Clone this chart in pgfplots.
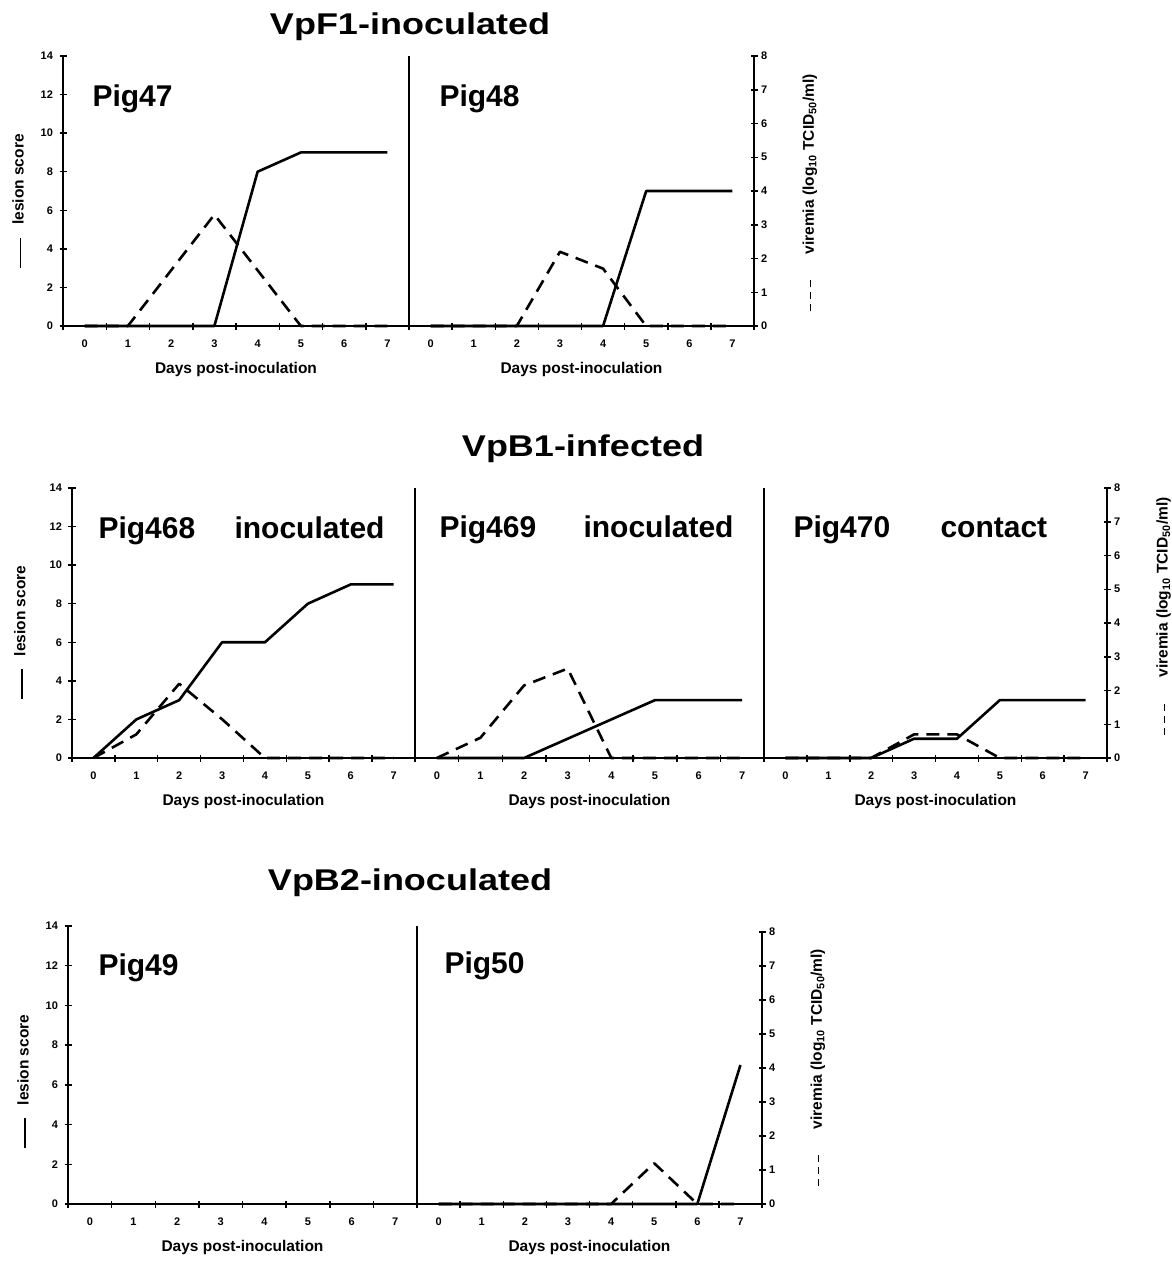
\documentclass[border=0pt]{standalone}
\usepackage{fontspec}
\setmainfont{Liberation Sans}
\usepackage{graphicx}
\usepackage{pgfplots}
\usepackage{pgfplotstable}
\pgfplotsset{compat=1.18}

% day, lesion score, viremia (log10 TCID50/ml)
\pgfplotstableread{
day les vir
0 0 0
1 0 0
2 0 1.65
3 0 3.3
4 8 1.65
5 9 0
6 9 0
7 9 0
}\pigA
\pgfplotstableread{
day les vir
0 0 0
1 0 0
2 0 0
3 0 2.2
4 0 1.7
5 7 0
6 7 0
7 7 0
}\pigB
\pgfplotstableread{
day les vir
0 0 0
1 2 0.7
2 3 2.2
3 6 1.15
4 6 0
5 8 0
6 9 0
7 9 0
}\pigC
\pgfplotstableread{
day les vir
0 0 0
1 0 0.6
2 0 2.15
3 1 2.65
4 2 0
5 3 0
6 3 0
7 3 0
}\pigD
\pgfplotstableread{
day les vir
0 0 0
1 0 0
2 0 0
3 1 0.7
4 1 0.7
5 3 0
6 3 0
7 3 0
}\pigE
\pgfplotstableread{
day les vir
0 0 0
1 0 0
2 0 0
3 0 0
4 0 0
5 0 0
6 0 0
7 0 0
}\pigF
\pgfplotstableread{
day les vir
0 0 0
1 0 0
2 0 0
3 0 0
4 0 0
5 0 1.2
6 0 0
7 7 0
}\pigG

\newcommand{\ticklabfont}{\fontsize{11}{13}\selectfont\bfseries}
\newcommand{\labfont}{\fontsize{15.5}{18}\selectfont\bfseries}
\newcommand{\pigfont}{\fontsize{30}{36}\selectfont\bfseries}
\newcommand{\lesionlab}{\rule[0.3ex]{30pt}{1.6pt}\hspace{13pt}lesion score}
\newcommand{\virlab}{\rule[0.3ex]{7pt}{1.6pt}\hspace{5pt}\rule[0.3ex]{7pt}{1.6pt}\hspace{5pt}\rule[0.3ex]{7pt}{1.6pt}\hspace{26pt}viremia (log\textsubscript{10} TCID\textsubscript{50}/ml)}

\pgfplotsset{
  lesion/.style={
    scale only axis, clip=false,
    xmin=-0.5, xmax=7.5, ymin=0, ymax=14,
    axis x line=bottom, axis y line=left,
    axis line style={-, line width=1.8pt},
    tick align=center,
    xtick={0,...,7}, minor xtick={-0.5,0.5,...,7.5},
    ytick={0,2,...,14},
    major tick length=7pt, minor tick length=7pt,
    tick style={line width=1.5pt, black},
    major x tick style={draw=none},
    tick label style={font=\ticklabfont},
    /pgf/number format/assume math mode=true,
    xticklabel style={yshift=-7pt},
    yticklabel style={xshift=-3pt},
    xlabel={Days post-inoculation},
    xlabel style={font=\labfont, at={(axis description cs:0.5,0)}, anchor=base, yshift=-47pt},
    ylabel style={font=\labfont, anchor=center},
  },
  vir/.style={scale only axis, clip=false, xmin=-0.5, xmax=7.5, ymin=0, ymax=8},
  virhide/.style={vir, hide axis},
  virright/.style={vir,
    axis x line=none, axis y line=right,
    axis line style={-, line width=1.8pt},
    tick align=center, ytick={0,...,8},
    major tick length=7pt,
    tick style={line width=1.5pt, black},
    tick label style={font=\ticklabfont},
    /pgf/number format/assume math mode=true,
    ylabel={\virlab},
    ylabel style={font=\labfont, anchor=center},
  },
  les/.style={black, line width=2.6pt, line join=round, mark=none},
  virp/.style={black, line width=2.6pt, line join=round, dash pattern=on 13pt off 8pt, mark=none},
}

\begin{document}
\begin{tikzpicture}[x=1pt,y=1pt]
\useasboundingbox (0,0) rectangle (1172,-1261);

% ---------- row 1: VpF1-inoculated ----------
\node[anchor=base] at (410,-34) {\pigfont\scalebox{1.2}[1]{VpF1-inoculated}};

\begin{axis}[lesion, at={(63pt,-326pt)}, anchor=south west, width=346pt, height=270pt,
  ylabel={\lesionlab}, ylabel style={at={(axis description cs:-0.130,0.463)}}]
\addplot[les] table[x=day,y=les] {\pigA};
\end{axis}
\begin{axis}[virhide, at={(63pt,-326pt)}, anchor=south west, width=346pt, height=270pt]
\addplot[virp] table[x=day,y=vir] {\pigA};
\end{axis}

\begin{axis}[lesion, ytick=\empty, at={(409pt,-326pt)}, anchor=south west, width=345pt, height=270pt]
\addplot[les] table[x=day,y=les] {\pigB};
\end{axis}
\begin{axis}[virright, at={(409pt,-326pt)}, anchor=south west, width=345pt, height=270pt,
  ylabel style={at={(axis description cs:1.162,0.493)}}]
\addplot[virp] table[x=day,y=vir] {\pigB};
\end{axis}

\node[anchor=base west] at (89,-106) {\pigfont Pig47};
\node[anchor=base west] at (436,-106) {\pigfont Pig48};

% ---------- row 2: VpB1-infected ----------
\node[anchor=base] at (583,-456) {\pigfont\scalebox{1.2}[1]{VpB1-infected}};

\begin{axis}[lesion, at={(72pt,-758pt)}, anchor=south west, width=343pt, height=270pt,
  ylabel={\lesionlab}, ylabel style={at={(axis description cs:-0.152,0.465)}}]
\addplot[les] table[x=day,y=les] {\pigC};
\end{axis}
\begin{axis}[virhide, at={(72pt,-758pt)}, anchor=south west, width=343pt, height=270pt]
\addplot[virp] table[x=day,y=vir] {\pigC};
\end{axis}

\begin{axis}[lesion, ytick=\empty, at={(415pt,-758pt)}, anchor=south west, width=349pt, height=270pt]
\addplot[les] table[x=day,y=les] {\pigD};
\end{axis}
\begin{axis}[virhide, at={(415pt,-758pt)}, anchor=south west, width=349pt, height=270pt]
\addplot[virp] table[x=day,y=vir] {\pigD};
\end{axis}

\begin{axis}[lesion, ytick=\empty, at={(764pt,-758pt)}, anchor=south west, width=343pt, height=270pt]
\addplot[les] table[x=day,y=les] {\pigE};
\end{axis}
\begin{axis}[virright, at={(764pt,-758pt)}, anchor=south west, width=343pt, height=270pt,
  ylabel style={at={(axis description cs:1.165,0.526)}}]
\addplot[virp] table[x=day,y=vir] {\pigE};
\end{axis}

\node[anchor=base west] at (95,-538) {\pigfont Pig468};
\node[anchor=base west] at (231,-538) {\pigfont inoculated};
\node[anchor=base west] at (436,-537) {\pigfont Pig469};
\node[anchor=base west] at (580,-537) {\pigfont inoculated};
\node[anchor=base west] at (790,-537) {\pigfont Pig470};
\node[anchor=base west] at (937,-537) {\pigfont contact};

% ---------- row 3: VpB2-inoculated ----------
\node[anchor=base] at (410,-890) {\pigfont\scalebox{1.2}[1]{VpB2-inoculated}};

\begin{axis}[lesion, at={(68pt,-1204pt)}, anchor=south west, width=349pt, height=278pt,
  ylabel={\lesionlab}, ylabel style={at={(axis description cs:-0.129,0.441)}}]
\addplot[les] table[x=day,y=les] {\pigF};
\end{axis}
\begin{axis}[virhide, at={(68pt,-1204pt)}, anchor=south west, width=349pt, height=272pt]
\addplot[virp] table[x=day,y=vir] {\pigF};
\end{axis}

\begin{axis}[lesion, ytick=\empty, at={(417pt,-1204pt)}, anchor=south west, width=345pt, height=278pt]
\addplot[les] table[x=day,y=les] {\pigG};
\end{axis}
\begin{axis}[virright, at={(417pt,-1204pt)}, anchor=south west, width=345pt, height=272pt,
  ylabel style={at={(axis description cs:1.162,0.502)}}]
\addplot[virp] table[x=day,y=vir] {\pigG};
\end{axis}

\node[anchor=base west] at (95,-975) {\pigfont Pig49};
\node[anchor=base west] at (441,-973) {\pigfont Pig50};
\end{tikzpicture}
\end{document}
